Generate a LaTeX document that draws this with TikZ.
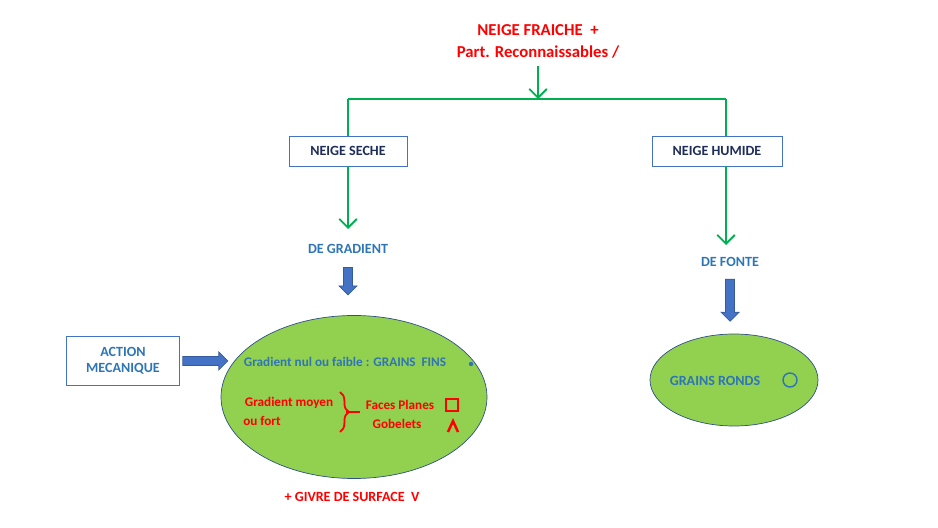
\documentclass[tikz,border=0pt]{standalone}
\usepackage{fontspec}
\setmainfont{Carlito}
\usetikzlibrary{positioning,arrows.meta,shapes.geometric,shapes.arrows,decorations.pathreplacing}
\definecolor{green1}{HTML}{00B050}
\definecolor{lime1}{HTML}{92D050}
\definecolor{blue1}{HTML}{2E75B6}
\definecolor{blue2}{HTML}{4472C4}
\definecolor{navy1}{HTML}{1F2D5A}
\definecolor{red1}{HTML}{FF0000}

\begin{document}
\begin{tikzpicture}[
    x=0.2mm, y=-0.2mm,
    >=Stealth,
    flow/.style={draw=green1, line width=1.1pt},
    flowarr/.style={flow, -{Straight Barb[length=5pt,width=10pt,line width=1.1pt]}},
    typebox/.style={draw=blue2, fill=white, font=\bfseries\fontsize{8}{9}\selectfont,
                    text=navy1, minimum width=2.36cm, minimum height=0.6cm},
    blk/.style={single arrow, draw=blue2!80!black, fill=blue2, minimum height=0.6cm,
                minimum width=0.36cm, single arrow head extend=1.2pt, inner sep=1pt},
    lbl/.style={font=\bfseries\fontsize{8}{9}\selectfont, text=blue1},
    rlbl/.style={font=\bfseries\fontsize{8}{9}\selectfont, text=red1},
    blob/.style={ellipse, draw=blue2!70!black, fill=lime1},
]
\useasboundingbox (0,0) rectangle (938,528);

% Top title
\node[rlbl, font=\bfseries\fontsize{9.5}{11}\selectfont] (fresh) at (538,30) {NEIGE FRAICHE\ \ +};
\node[rlbl, font=\bfseries\fontsize{9.5}{11}\selectfont] (part) at (538,52) {Part. Reconnaissables /};

% Branches
\coordinate (top) at (538,66);
\coordinate (split) at (538,99);
\coordinate (lj) at (348,99);
\coordinate (rj) at (726,99);
\node[typebox] (seche) at (348,151) {NEIGE SECHE};
\node[typebox, minimum width=2.6cm] (humide) at (717,151) {NEIGE HUMIDE};
\draw[flowarr] (top) -- (split);
\draw[flow] (lj) -- (rj);
\draw[flow] (lj) -- (seche.north);
\draw[flow] (rj) -- (726,136);

\node[lbl] (gradient) at (348,249) {DE GRADIENT};
\node[lbl] (fonte) at (730,262) {DE FONTE};
\draw[flowarr] (seche.south) -- (348,229);
\draw[flowarr] (726,166) -- (726,245);

% Ellipses
\node[blob, minimum width=5.32cm, minimum height=3.26cm] (gbig) at (354,397) {};
\node[blob, minimum width=3.36cm, minimum height=1.84cm] (gsmall) at (734,380) {};

\node[blk, rotate=-90, minimum height=0.55cm] (a1) at (348,279) {};
\node[blk, rotate=-90, minimum height=0.84cm] (a2) at (730,298) {};

% Action mecanique
\node[draw=blue2, fill=white, lbl, align=center, minimum width=2.26cm,
      minimum height=0.98cm] (action) at (123,361) {ACTION\\MECANIQUE};
\node[blk, minimum height=0.9cm] (a3) at (203,361) {};

% Left ellipse content
\node[lbl, font=\bfseries\fontsize{7.5}{9}\selectfont] (nul) at (345,362) {Gradient nul ou faible : GRAINS\ \ FINS};
\fill[blue1] (471,364) circle (2.2);
\node[rlbl, font=\bfseries\fontsize{7.5}{9}\selectfont] (moyen) at (289,403) {Gradient moyen};
\node[rlbl, font=\bfseries\fontsize{7.5}{9}\selectfont] (fort) at (262,421) {ou fort};
\draw[red1, line width=1pt, decorate, decoration={brace, amplitude=5pt}] (340,392) -- (340,432);
\draw[red1, line width=1pt] (346,412) -- (360,412);
\node[rlbl, font=\bfseries\fontsize{7.5}{9}\selectfont] (faces) at (400,405) {Faces Planes};
\node[rlbl, font=\bfseries\fontsize{7.5}{9}\selectfont] (gob) at (397,424) {Gobelets};
\draw[red1, line width=0.8pt] (446,399) rectangle (458,411);
\draw[red1, line width=1.4pt] (448,432) -- (453,421) -- (458,432);

% Right ellipse content
\node[lbl] (ronds) at (715,381) {GRAINS RONDS};
\draw[blue1, line width=0.8pt] (790,380) circle (7);

\node[rlbl] (givre) at (352,497) {+ GIVRE DE\ SURFACE\ \ V};
\end{tikzpicture}
\end{document}
